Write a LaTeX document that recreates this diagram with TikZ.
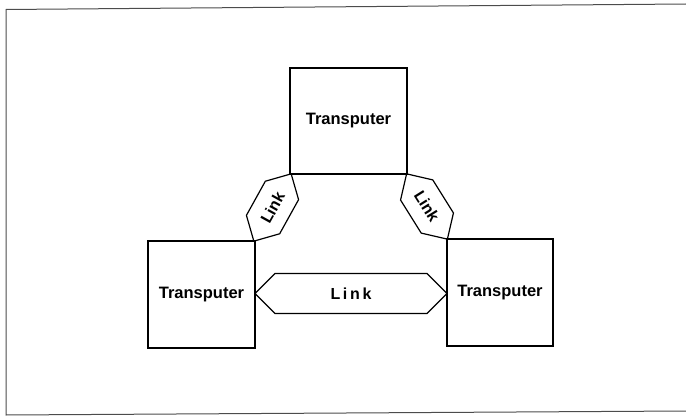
\documentclass[tikz,border=0pt]{standalone}
\usepackage{fontspec}
\setmainfont{Liberation Sans}
\usetikzlibrary{shapes.symbols,calc}
\tikzset{
  tbox/.style={draw, line width=1.3pt, inner sep=0pt, font=\fontsize{16.5}{19}\selectfont\bfseries},
  linkhex/.style={draw, line width=1.2pt, shape=signal, signal to=east and west, signal pointer angle=90, inner sep=0pt, font=\fontsize{16}{19}\selectfont\bfseries},
  framel/.style={draw=black!70, line width=1pt}
}
\begin{document}
\begin{tikzpicture}[x=1pt,y=-1pt]
\useasboundingbox (0,0) rectangle (686,417);
\coordinate (f1) at (686,4);
\coordinate (f2) at (6,9.5);
\coordinate (f3) at (6,415);
\coordinate (f4) at (686,411);
\draw[framel] (f1) -- (f2) -- (f3) -- (f4);
\node[tbox, minimum width=117pt, minimum height=106pt] (top) at (348.5,121) {Transputer};
\node[tbox, minimum width=107pt, minimum height=107pt] (left) at (201.5,294.5) {Transputer};
\node[tbox, minimum width=106pt, minimum height=107pt] (right) at (500,292.5) {Transputer};
\node[linkhex, minimum width=192pt, minimum height=40pt] (lb) at ($(left.east)!0.5!(right.west)$) {L\,i\,n\,k};
\node[linkhex, minimum width=77pt, minimum height=38pt, rotate=61] (ll) at ($(left.north east)!0.5!(top.south west)$) {Link};
\node[linkhex, minimum width=77pt, minimum height=38pt, rotate=-58] (lr) at ($(top.south east)!0.5!(right.north west)$) {Link};
\end{tikzpicture}
\end{document}
